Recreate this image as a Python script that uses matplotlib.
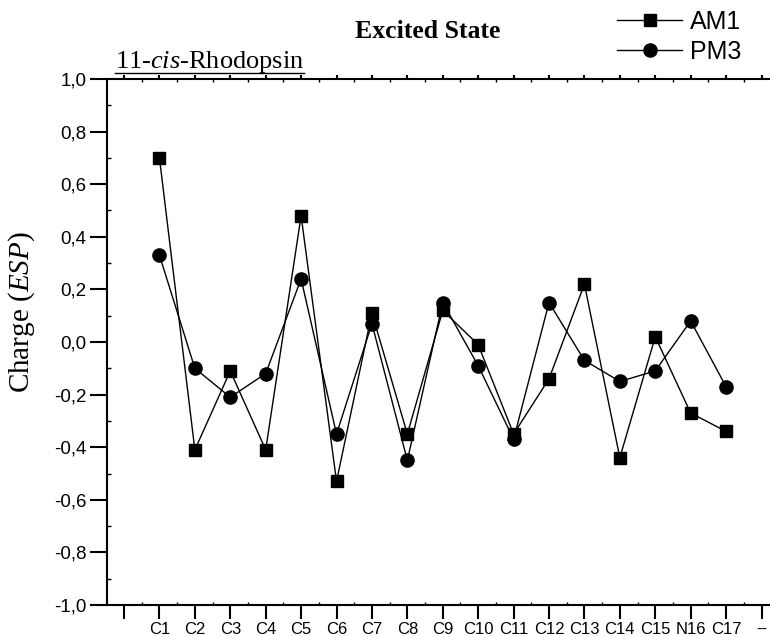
import matplotlib.pyplot as plt
from matplotlib.ticker import MultipleLocator, FixedLocator

plt.rcParams['mathtext.fontset'] = 'custom'
plt.rcParams['mathtext.rm'] = 'Liberation Serif'
plt.rcParams['mathtext.it'] = 'Liberation Serif:italic'

labels = ['', 'C1', 'C2', 'C3', 'C4', 'C5', 'C6', 'C7', 'C8', 'C9', 'C10',
          'C11', 'C12', 'C13', 'C14', 'C15', 'N16', 'C17', '--']
atoms = list(range(1, 18))
am1 = [0.70, -0.41, -0.11, -0.41, 0.48, -0.53, 0.11, -0.35, 0.12, -0.01,
       -0.35, -0.14, 0.22, -0.44, 0.02, -0.27, -0.34]
pm3 = [0.33, -0.10, -0.21, -0.12, 0.24, -0.35, 0.07, -0.45, 0.15, -0.09,
       -0.37, 0.15, -0.07, -0.15, -0.11, 0.08, -0.17]

fig = plt.figure(figsize=(7.7, 6.37), dpi=100)
ax = fig.add_axes([0.139, 0.0502, 0.861, 0.8258])

ax.plot(atoms, am1, color='black', lw=1, marker='s', ms=8.5, label='AM1')
ax.plot(atoms, pm3, color='black', lw=1, marker='o', ms=9.5, label='PM3')

ax.set_xlim(-0.48, 18.24)
ax.set_ylim(-1.0, 1.0)

ax.spines['right'].set_visible(False)
for s in ['left', 'bottom', 'top']:
    ax.spines[s].set_linewidth(1.5)

ax.xaxis.set_major_locator(FixedLocator(range(len(labels))))
ax.set_xticklabels(labels, fontsize=12, family='Liberation Sans')
ax.xaxis.set_minor_locator(MultipleLocator(0.5))
ax.yaxis.set_major_locator(MultipleLocator(0.2))
ax.yaxis.set_minor_locator(MultipleLocator(0.1))
ax.set_yticklabels([f'{v:.1f}'.replace('.', ',') for v in ax.get_yticks()],
                   fontsize=13.5, family='Liberation Sans')

ax.tick_params(axis='x', which='major', direction='out', length=10, width=1.5, pad=2)
ax.tick_params(axis='x', which='minor', direction='in', length=2, width=1)
ax.tick_params(axis='y', which='major', direction='out', length=12, width=1.5, pad=3)
ax.tick_params(axis='y', which='minor', direction='in', length=3, width=1)
ax.tick_params(axis='x', which='both', top=True)
for t in ax.xaxis.get_major_ticks():
    t.tick2line.set_markersize(3)

ax.set_ylabel('Charge $\\mathit{(ESP)}$', fontsize=21, family='Liberation Serif', labelpad=4)
ax.yaxis.set_label_coords(-0.105, 0.557)

fig.text(0.556, 0.95, 'Excited State', ha='center', va='center',
         fontsize=18.5, fontweight='bold', family='Liberation Serif')
sub = fig.text(0.149, 0.902, '11-$\\mathit{cis}$-Rhodopsin', ha='left', va='center',
               fontsize=19, family='Liberation Serif')

fig.canvas.draw()
bb = sub.get_window_extent().transformed(fig.transFigure.inverted())
fig.add_artist(plt.Line2D([bb.x0, bb.x1], [bb.y0 + 0.004, bb.y0 + 0.004],
                          color='black', lw=1, transform=fig.transFigure))

leg = fig.legend(loc='upper left', bbox_to_anchor=(0.795, 0.992), frameon=False,
                 prop={'family': 'Liberation Sans', 'size': 18},
                 handlelength=2.6, handletextpad=0.3, labelspacing=0.22,
                 borderaxespad=0, borderpad=0.2)

fig.savefig('out.png', dpi=100)
